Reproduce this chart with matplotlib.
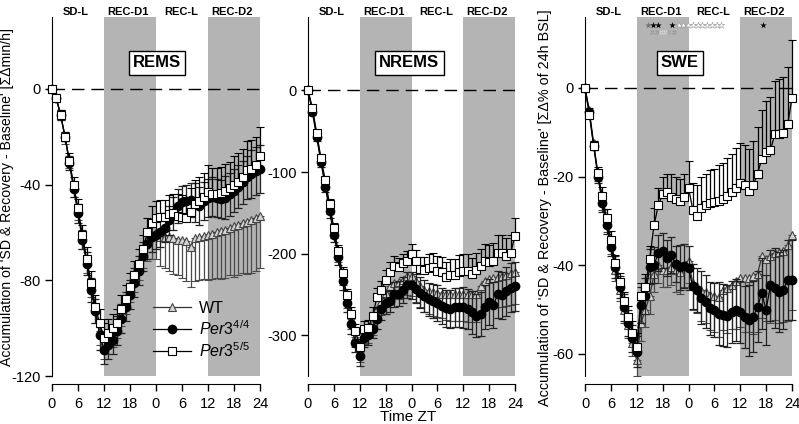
import matplotlib
matplotlib.use("Agg")
import matplotlib.pyplot as plt
import matplotlib.transforms as mtransforms
from matplotlib.lines import Line2D
import numpy as np

plt.rcParams['font.family'] = ['Liberation Sans', 'DejaVu Sans']
plt.rcParams['mathtext.fontset'] = 'custom'
plt.rcParams['mathtext.rm'] = 'Liberation Sans'
plt.rcParams['mathtext.it'] = 'Liberation Sans:italic'

# ---------------- data ----------------
hours = list(range(0, 49))
tick_pos = [0, 6, 12, 18, 24, 30, 36, 42, 48]
tick_labels = ["0", "6", "12", "18", "0", "6", "12", "18", "24"]
period_labels = ["SD-L", "REC-D1", "REC-L", "REC-D2"]
period_centers = [5.5, 17.5, 29.7, 41.5]
dark_periods = [(12, 24), (36, 48)]
series_names = ["WT", r"$\mathit{Per3}^{\mathit{4/4}}$", r"$\mathit{Per3}^{\mathit{5/5}}$"]

# REMS (min/h)
rems_wt = [0, -4, -11, -20, -30, -41, -51, -62, -72, -82, -92, -101, -106,
           -104, -101, -97, -92, -87, -82, -77, -72, -67, -63, -61, -60,
           -62, -62, -62, -62.5, -63, -63, -63.5, -66, -62.5, -62, -61.5, -61, -60.5, -60, -59.5, -59,
           -58, -57.5, -57, -56, -55.5, -55, -54, -53]
rems_44 = [0, -4, -11, -20, -31, -42, -52, -63, -73, -84, -93, -103, -109,
           -107, -105, -101, -96, -91, -86, -81, -76, -70, -65, -62, -61,
           -60, -58, -55, -52, -49, -47.5, -47, -46.5, -47.5, -49, -47, -45.5, -45, -45.5, -46, -45.5,
           -44, -42.5, -41, -39, -37, -35.5, -34.5, -33.5]
rems_55 = [0, -4, -11, -20, -30, -40, -50, -61, -71, -81, -91, -98, -104,
           -102, -100, -98, -92, -88, -83, -78, -73, -67, -60, -56, -54,
           -53.5, -53.5, -52.5, -52, -53, -53.5, -54, -51.5, -48, -47, -45, -43, -44, -44, -43.5, -42.5,
           -41.5, -40, -39, -37, -34, -33.5, -32, -28]
rems_err_wt = [0, 1, 2, 3, 3, 4, 4, 5, 5, 5, 6, 6, 7, 7, 7, 7, 7, 7, 7, 8, 8, 8, 9, 10, 11,
               12, 13, 14, 15, 15, 16, 17, 17, 18, 18, 18, 19, 19, 19, 20, 20, 20, 21, 21, 21, 22, 22, 22, 22]
rems_err_44 = [0, 1, 2, 2, 3, 3, 4, 4, 5, 5, 5, 6, 6, 6, 6, 6, 6, 6, 6, 6, 6, 6, 6, 6, 6,
               6, 6, 6, 7, 7, 7, 7, 7, 8, 8, 8, 8, 8, 8, 8, 9, 9, 9, 9, 9, 9, 10, 10, 10]
rems_err_55 = [0, 1, 2, 2, 3, 3, 4, 4, 5, 5, 5, 6, 6, 6, 6, 6, 6, 6, 6, 6, 6, 6, 6, 7, 7,
               7, 7, 8, 8, 9, 9, 9, 10, 10, 10, 10, 11, 11, 11, 11, 11, 11, 12, 12, 12, 12, 12, 12, 12]

# NREMS (min/h)
nrems_wt = [0, -23, -54, -85, -114, -143, -172, -200, -229, -256, -280, -302, -320,
            -298, -296, -285, -268, -258, -248, -240, -236, -235, -232, -228, -228,
            -234, -240, -244, -246, -247, -248, -249, -250, -250, -250, -250, -250, -250, -250, -249, -240,
            -233, -231, -230, -229, -228, -226, -224, -222]
nrems_44 = [0, -26, -57, -88, -118, -148, -177, -204, -234, -261, -286, -309, -325,
            -303, -300, -292, -280, -268, -260, -258, -250, -249, -245, -238, -239,
            -243, -248, -252, -256, -258, -261, -264, -267, -268, -266, -266, -266, -268, -272, -276, -274,
            -266, -259, -263, -250, -251, -246, -242, -240]
nrems_55 = [0, -21, -52, -83, -110, -139, -169, -197, -224, -251, -274, -295, -314,
            -292, -291, -276, -253, -245, -232, -222, -215, -217, -212, -209, -201,
            -209, -219, -220, -218, -217, -221, -223, -229, -226, -226, -222, -221, -221, -225, -220, -215,
            -209, -210, -209, -199, -199, -203, -199, -178]
nrems_err_wt = [0, 4, 5, 6, 7, 8, 9, 10, 10, 11, 12, 12, 13, 13, 14, 15, 16, 17, 18, 19, 20, 21, 22, 23, 24,
                25, 26, 27, 28, 29, 30, 30, 31, 32, 32, 33, 33, 34, 34, 35, 35, 36, 36, 37, 37, 38, 38, 39, 40]
nrems_err_44 = [0, 4, 5, 6, 7, 8, 9, 10, 10, 11, 12, 12, 13, 12, 12, 12, 13, 13, 14, 14, 15, 15, 16, 16, 17,
                18, 19, 20, 20, 21, 22, 22, 23, 23, 24, 24, 25, 25, 26, 26, 27, 27, 28, 28, 29, 29, 30, 30, 30]
nrems_err_55 = [0, 3, 4, 5, 5, 6, 6, 7, 7, 8, 8, 9, 9, 10, 10, 10, 11, 11, 12, 12, 12, 12, 12, 12, 13,
                14, 15, 16, 17, 18, 18, 19, 19, 20, 20, 20, 20, 20, 20, 21, 21, 21, 21, 22, 22, 22, 22, 22, 22]

# SWE (% of 24h baseline)
swe_wt = [0, -5, -12.5, -19.5, -25.5, -30.5, -35.5, -41, -45.5, -50, -53.5, -57.5, -61.5,
          -53, -50, -47, -42, -40, -41, -41, -40.5, -41, -41.5, -40, -39,
          -44, -44.8, -45.5, -46, -46.7, -47, -47.1, -45.6, -45.2, -44.5, -43.5, -43, -43, -43, -42.5, -42,
          -38, -38.7, -38, -37.3, -37, -36.8, -35.5, -33.2]
swe_44 = [0, -5.5, -13, -20, -26, -31, -36, -40.5, -45, -49.5, -53, -56.5, -59.5,
          -49, -47, -40.3, -40, -37.2, -36.7, -38.4, -37.7, -39.7, -40.5, -40.2, -40.7,
          -44.8, -45.6, -47.3, -48.2, -49.7, -50.1, -50.9, -51.2, -51.5, -50.5, -50.2, -50.5, -51.6, -52.4, -51.6, -49.4,
          -46.3, -50.1, -44.5, -45.2, -46, -45.5, -43.3, -43.3]
swe_55 = [0, -6, -13, -19.3, -24.4, -29.4, -34.3, -39.6, -43.7, -48, -51.6, -55.2, -58.4,
          -47, -45, -38.7, -31, -26.5, -24, -23.5, -24.5, -25, -25.5, -24.5, -22.5,
          -27.5, -29, -27, -26.5, -26, -25.8, -25.5, -25, -24.3, -23.4, -22.5, -21.5, -21.8, -23.2, -22, -19.4,
          -16, -14.5, -14.1, -10.5, -10.4, -10.1, -8.2, -2.2]
swe_err_wt = [0, 1, 1, 1.5, 2, 2, 2, 2.5, 2.5, 3, 3, 3, 3.5, 4, 4, 4, 4, 4, 4, 4, 4, 5, 5, 5, 5,
              6, 6, 7, 7, 8, 8, 9, 9, 10, 10, 11, 11, 12, 12, 13, 13, 14, 14, 15, 15, 16, 16, 17, 17]
swe_err_44 = [0, 1, 1, 1.5, 2, 2, 2, 2.5, 2.5, 3, 3, 3, 3.5, 4, 4, 4, 4, 4, 4, 4, 4, 4, 5, 5, 5,
              5, 5, 6, 6, 6, 6, 7, 7, 7, 7, 7, 7, 7, 8, 8, 8, 8, 8, 8, 9, 9, 9, 9, 9]
swe_err_55 = [0, 1, 1, 1.5, 2, 2, 2, 2, 2, 2, 2.5, 2.5, 3, 3, 3, 3, 4, 4, 4, 4, 5, 5, 5, 5, 6,
              6, 7, 7, 7, 7.5, 7.5, 8, 8, 8.5, 8.5, 9, 9, 9, 9.5, 10, 10.5, 11, 11.5, 12, 12, 12.5, 12.5, 13, 13]

# significance marks (SWE panel)
star_dark_hours = [14.7]
star_black_hours = [15.8, 16.9, 20.2, 41.3]
star_white_hours = [21.7, 22.8, 23.9, 25.0, 26.1, 27.2, 28.3, 29.4, 30.5, 31.6]
hash_hours = [15.7, 16.7, 17.7, 18.7, 19.6, 20.6]
hash_colors = ["#8a8a8a", "#8a8a8a", "#e8e8e8", "#e8e8e8", "#a0a0a0", "#8a8a8a"]

panels = [
    dict(name="REMS", wt=rems_wt, p44=rems_44, p55=rems_55,
         ewt=rems_err_wt, e44=rems_err_44, e55=rems_err_55,
         ylim=(-120, 30), yticks=[-120, -80, -40, 0],
         pos=[52, 17, 260, 376], label_x=0.505),
    dict(name="NREMS", wt=nrems_wt, p44=nrems_44, p55=nrems_55,
         ewt=nrems_err_wt, e44=nrems_err_44, e55=nrems_err_55,
         ylim=(-350, 90), yticks=[-300, -200, -100, 0],
         pos=[308, 17, 515, 376], label_x=0.49),
    dict(name="SWE", wt=swe_wt, p44=swe_44, p55=swe_55,
         ewt=swe_err_wt, e44=swe_err_44, e55=swe_err_55,
         ylim=(-65, 16), yticks=[-60, -40, -20, 0],
         pos=[585, 17, 792, 376], label_x=0.459),
]

W, H = 799, 424
fig = plt.figure(figsize=(W / 100, H / 100), dpi=100)

wt_style = dict(marker="^", ms=6, mfc="#d4d4d4", mec="#444444", mew=0.8, color="#333333", lw=0.9)
k44_style = dict(marker="o", ms=6, mfc="black", mec="black", color="black", lw=0.9)
k55_style = dict(marker="s", ms=5.5, mfc="white", mec="black", mew=0.8, color="black", lw=0.9)

axes = []
for p in panels:
    x0, y0, x1, y1 = p["pos"]
    ax = fig.add_axes([x0 / W, 1 - y1 / H, (x1 - x0) / W, (y1 - y0) / H])
    axes.append(ax)
    ax.set_xlim(0, 48)
    ax.set_ylim(*p["ylim"])
    for a, b in dark_periods:
        ax.axvspan(a, b, color="#b4b4b4", lw=0, zorder=0)
    ax.axhline(0, color="black", lw=1.0, dashes=(9, 5), zorder=1)

    h = np.array(hours)
    zeros = np.zeros(len(h))
    # WT triangles: error bars downward
    ax.errorbar(h, p["wt"], yerr=[p["ewt"], zeros], fmt="-",
                ecolor="#4a4a4a", elinewidth=0.9, capsize=3, capthick=0.9,
                zorder=3, clip_on=False, **wt_style)
    # Per3 4/4 circles: both sides
    ax.errorbar(h, p["p44"], yerr=p["e44"], fmt="-",
                ecolor="#222222", elinewidth=0.9, capsize=3, capthick=0.9,
                zorder=4, clip_on=False, **k44_style)
    # Per3 5/5 squares: error bars upward
    ax.errorbar(h, p["p55"], yerr=[zeros, p["e55"]], fmt="-",
                ecolor="black", elinewidth=0.9, capsize=3, capthick=0.9,
                zorder=5, clip_on=False, **k55_style)

    for s in ["top", "right"]:
        ax.spines[s].set_visible(False)
    ax.spines["bottom"].set_position(("outward", 6))
    ax.spines["bottom"].set_bounds(0, 48)
    ax.set_xticks(tick_pos)
    ax.set_xticklabels(tick_labels)
    ax.set_yticks(p["yticks"])
    ax.set_yticklabels([str(t) for t in p["yticks"]])
    ax.tick_params(direction="out", length=5, width=1, labelsize=10.5, pad=3)
    ax.tick_params(axis="x", pad=4)

    trans = mtransforms.blended_transform_factory(ax.transData, ax.transAxes)
    for lab, cx in zip(period_labels, period_centers):
        ax.text(cx, 1.014, lab, transform=trans, ha="center", va="center",
                fontsize=8, fontweight="bold", clip_on=False)

    ax.text(p["label_x"], 0.872, p["name"], transform=ax.transAxes, ha="center", va="center",
            fontsize=12, fontweight="bold",
            bbox=dict(boxstyle="square,pad=0.25", fc="white", ec="black", lw=1), zorder=6)

# legend in the REMS panel (marker + line handles, no error bars)
handles = [Line2D([], [], **wt_style), Line2D([], [], **k44_style), Line2D([], [], **k55_style)]
axes[0].legend(handles, series_names, loc="upper left", bbox_to_anchor=(0.455, 0.228), frameon=False,
               fontsize=11.5, handlelength=2.4, handletextpad=0.5, labelspacing=0.22,
               borderaxespad=0)

# significance marks in SWE panel
axs = axes[2]
axs.scatter(star_dark_hours, [14.2] * len(star_dark_hours), marker="*", s=24, c="#707070",
            lw=0, zorder=7, clip_on=False)
axs.scatter(star_black_hours, [14.2] * len(star_black_hours), marker="*", s=24, c="black",
            lw=0, zorder=7, clip_on=False)
axs.scatter(star_white_hours, [14.2] * len(star_white_hours), marker="*", s=24, c="white",
            edgecolors="#9a9a9a", lw=0.4, zorder=7, clip_on=False)
for hh, cc in zip(hash_hours, hash_colors):
    axs.text(hh, 12.2, "#", color=cc, fontsize=6, ha="center", va="center", zorder=7)

ylab = "Accumulation of 'SD & Recovery - Baseline' "
fig.text(7 / W, 1 - 197 / H, ylab + "[ΣΔmin/h]", rotation=90, ha="center", va="center", fontsize=10.2)
fig.text(545 / W, 1 - 208 / H, ylab + "[ΣΔ% of 24h BSL]", rotation=90, ha="center", va="center",
         fontsize=10.4)
fig.text(408 / W, 1 - 417 / H, "Time ZT", ha="center", va="center", fontsize=11)

fig.savefig("out.png", dpi=100)
